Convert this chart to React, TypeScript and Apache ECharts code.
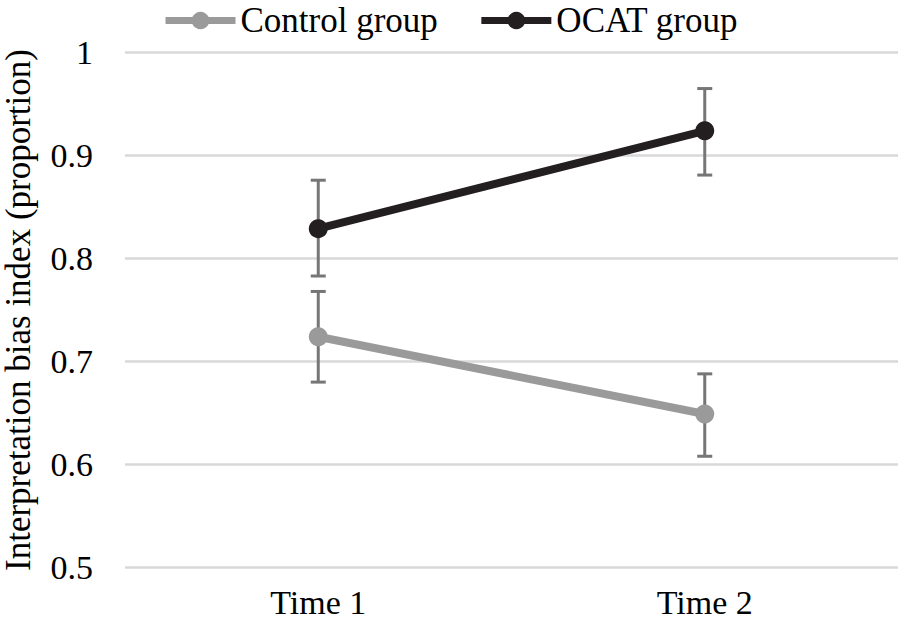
import React, { useEffect, useRef } from "react";
import * as echarts from "echarts";

const categories = ["Time 1", "Time 2"];
const controlMeans = [0.724, 0.649];
const controlLower = [0.68, 0.608];
const controlUpper = [0.768, 0.688];
const ocatMeans = [0.829, 0.924];
const ocatLower = [0.783, 0.881];
const ocatUpper = [0.876, 0.965];
const yMin = 0.5;
const yMax = 1;
const yInterval = 0.1;

const FONT = "'Liberation Serif', 'Times New Roman', serif";
const CONTROL_COLOR = "#9a9a9b";
const OCAT_COLOR = "#231f20";
const ERR_COLOR = "#767676";

function errData(lo: number[], hi: number[]) {
  return categories.map((_, i) => [i, lo[i], hi[i]]);
}

function errRender(params: any, api: any) {
  const x = api.value(0);
  const pLo = api.coord([x, api.value(1)]);
  const pHi = api.coord([x, api.value(2)]);
  const half = 7.5;
  const style = { stroke: ERR_COLOR, lineWidth: 3 };
  return {
    type: "group",
    children: [
      { type: "line", shape: { x1: pLo[0], y1: pLo[1], x2: pHi[0], y2: pHi[1] }, style },
      { type: "line", shape: { x1: pLo[0] - half, y1: pLo[1], x2: pLo[0] + half, y2: pLo[1] }, style },
      { type: "line", shape: { x1: pHi[0] - half, y1: pHi[1], x2: pHi[0] + half, y2: pHi[1] }, style },
    ],
  };
}

export default function App() {
  const ref = useRef<HTMLDivElement>(null);
  useEffect(() => {
    if (!ref.current) return;
    const chart = echarts.init(ref.current, null, { renderer: "svg" });
    chart.setOption({
      animation: false,
      textStyle: { fontFamily: FONT },
      legend: {
        left: 157,
        top: -2,
        itemWidth: 70,
        itemHeight: 22,
        itemGap: 40,
        data: ["Control group", "OCAT group"],
        lineStyle: { width: 7 },
        textStyle: { fontFamily: FONT, fontSize: 35, color: "#000", lineHeight: 28 },
      },
      grid: {
        left: 125,
        right: 0,
        top: 52.5,
        bottom: 54.5,
        containLabel: false,
        outerBoundsMode: "none",
      },
      xAxis: {
        type: "category",
        data: categories,
        boundaryGap: true,
        axisLine: { show: false },
        axisTick: { show: false },
        axisLabel: { fontFamily: FONT, fontSize: 34, color: "#000", margin: 21, lineHeight: 28 },
        splitLine: { show: false },
      },
      yAxis: {
        type: "value",
        min: yMin,
        max: yMax,
        interval: yInterval,
        name: "Interpretation bias index (proportion)",
        nameLocation: "middle",
        nameGap: 94,
        nameTextStyle: { fontFamily: FONT, fontSize: 35, color: "#000", lineHeight: 26 },
        axisLine: { show: false },
        axisTick: { show: false },
        axisLabel: { fontFamily: FONT, fontSize: 34, color: "#000", margin: 32 },
        splitLine: { lineStyle: { color: "#d9d9d9", width: 2.5 } },
      },
      series: [
        {
          type: "custom",
          name: "errControl",
          renderItem: errRender,
          data: errData(controlLower, controlUpper),
          z: 1,
          silent: true,
        },
        {
          type: "custom",
          name: "errOcat",
          renderItem: errRender,
          data: errData(ocatLower, ocatUpper),
          z: 1,
          silent: true,
        },
        {
          type: "line",
          name: "Control group",
          data: controlMeans,
          symbol: "circle",
          symbolSize: 19,
          color: CONTROL_COLOR,
          lineStyle: { color: CONTROL_COLOR, width: 8 },
          itemStyle: { color: CONTROL_COLOR },
          z: 3,
        },
        {
          type: "line",
          name: "OCAT group",
          data: ocatMeans,
          symbol: "circle",
          symbolSize: 19,
          color: OCAT_COLOR,
          lineStyle: { color: OCAT_COLOR, width: 8 },
          itemStyle: { color: OCAT_COLOR },
          z: 3,
        },
      ],
    });
    return () => chart.dispose();
  }, []);
  return (
    <div
      ref={ref}
      style={{ position: "fixed", left: 0, top: 0, width: 898, height: 622, background: "#fff" }}
    />
  );
}
